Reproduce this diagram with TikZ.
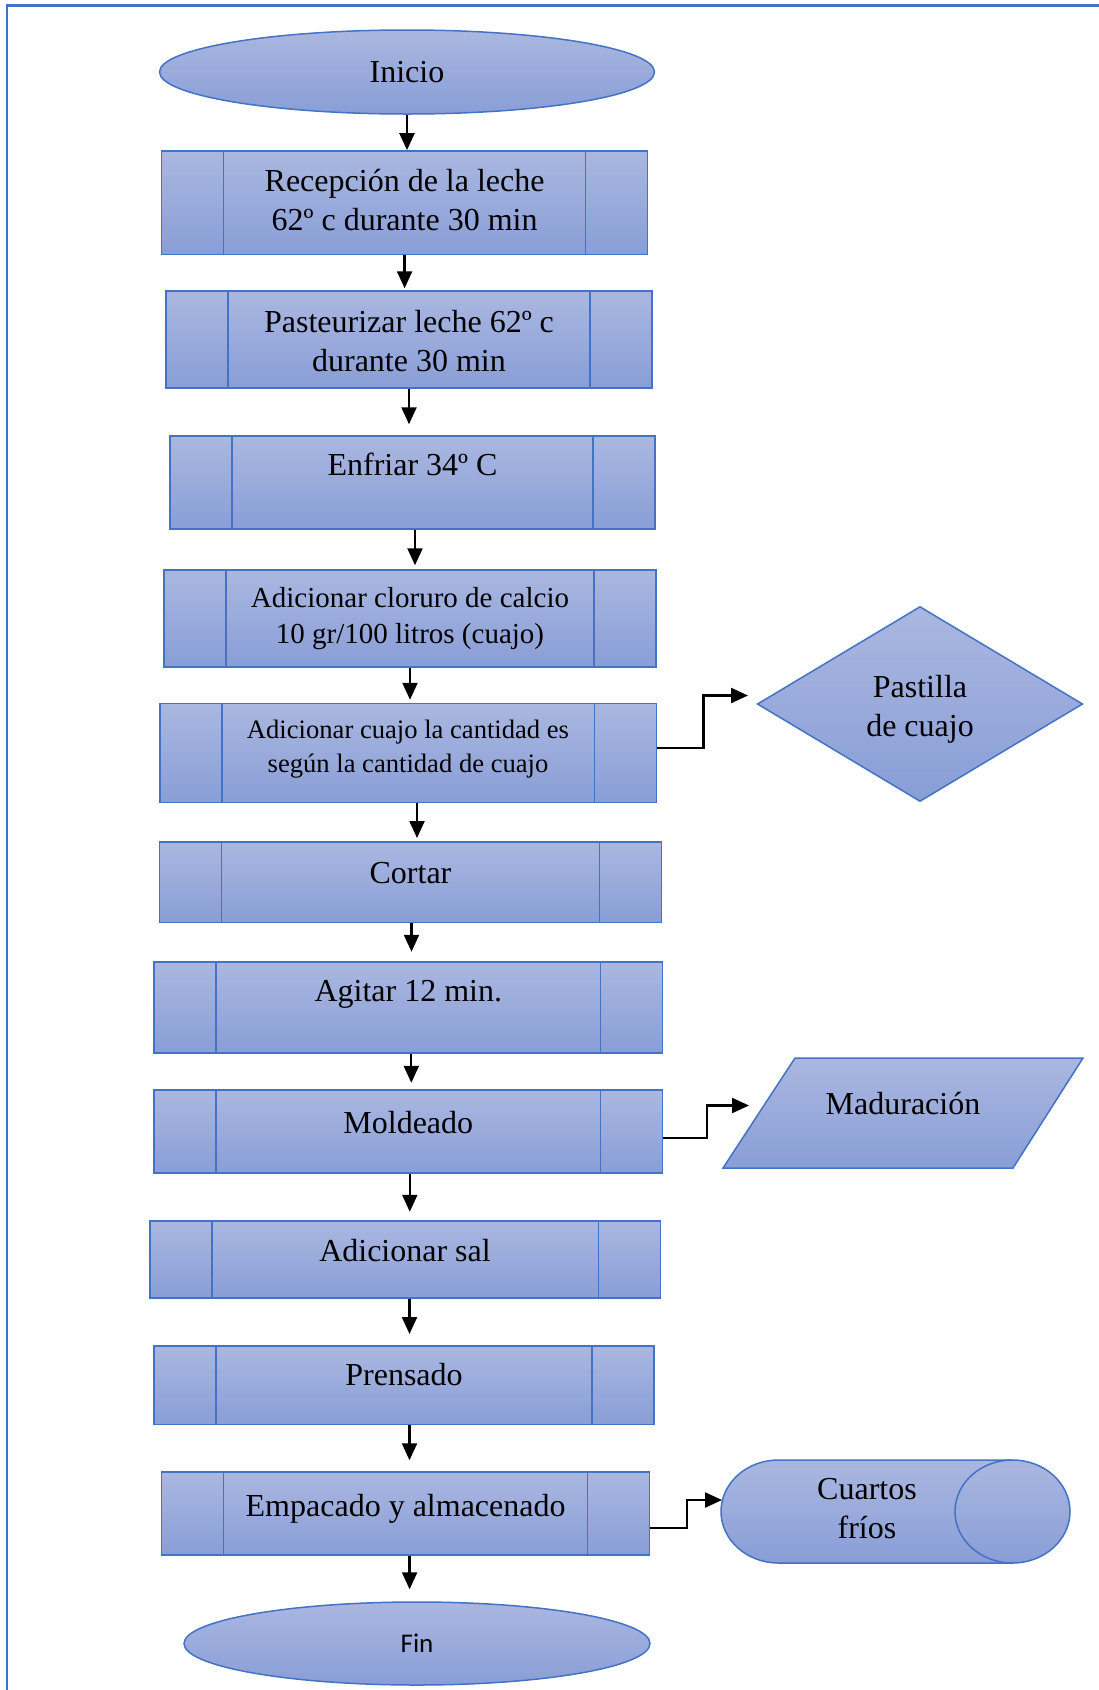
\documentclass[tikz,border=0pt]{standalone}
\usepackage{fontspec}
\setmainfont{Liberation Serif}
\newfontfamily\calibrifont{Carlito}
\usetikzlibrary{positioning, arrows.meta, shapes.geometric}
\definecolor{FrameBlue}{RGB}{68,114,196}
\definecolor{FillTop}{RGB}{170,183,224}
\definecolor{FillBottom}{RGB}{137,158,215}
\newcommand{\boxfont}{\fontsize{32}{39}\selectfont}
\newcommand{\smallboxfont}{\fontsize{29}{36.5}\selectfont}
\newcommand{\tinyboxfont}{\fontsize{26.6}{33.4}\selectfont}
\tikzset{
  shape fill/.style={draw=FrameBlue, line width=1.5pt, top color=FillTop, bottom color=FillBottom},
  terminal/.style={shape fill, ellipse, inner sep=0pt},
  process/.style={shape fill, rectangle, inner sep=0pt,
    path picture={\draw[FrameBlue, line width=1.5pt]
      ([xshift=62pt]path picture bounding box.north west) -- ([xshift=62pt]path picture bounding box.south west)
      ([xshift=-62pt]path picture bounding box.north east) -- ([xshift=-62pt]path picture bounding box.south east);}},
  decision/.style={shape fill, diamond, aspect=1.67, inner sep=0pt, align=center, font=\boxfont},
  cylcap/.style={x radius=57.5pt, y radius=51.5pt},
  boxtext/.style={align=center, font=\boxfont, inner sep=0pt},
  flow/.style={line width=2.3pt, -{Triangle[width=15pt,length=17pt]}}
}
\begin{document}
\begin{tikzpicture}[x=1pt, y=-1pt]
  \useasboundingbox (0,0) rectangle (1099,1690);
  % Frame
  \draw[FrameBlue, line width=2.5pt] (7,1690) -- (7,5.5) -- (1099,5.5);

  % Main column
  \node[terminal, minimum width=495, minimum height=84, font=\boxfont] (inicio) at (407,72) {Inicio};

  \node[process, minimum width=486, minimum height=103.4] (recepcion) at (404.6,202.6) {};
  \node[boxtext] (recepcion text) at ([yshift=3]recepcion.center) {Recepción de la leche\\62º c durante 30 min};

  \node[process, minimum width=486, minimum height=97] (pasteurizar) at (409,339.5) {};
  \node[boxtext] (pasteurizar text) at ([yshift=-2]pasteurizar.center) {Pasteurizar leche 62º c\\durante 30 min};

  \node[process, minimum width=485, minimum height=93] (enfriar) at (412.5,482.5) {};
  \node[boxtext] (enfriar text) at ([yshift=18.5]enfriar.center) {Enfriar 34º C};

  \node[process, minimum width=492, minimum height=97] (cloruro) at (410,618.5) {};
  \node[boxtext, font=\smallboxfont] (cloruro text) at (cloruro.center) {Adicionar cloruro de calcio\\10 gr/100 litros (cuajo)};

  \node[process, minimum width=496.5, minimum height=99] (cuajo) at (408,753) {};
  \node[boxtext, font=\tinyboxfont] (cuajo text) at ([yshift=4]cuajo.center) {Adicionar cuajo la cantidad es\\según la cantidad de cuajo};

  \node[process, minimum width=502, minimum height=80.5] (cortar) at (410.5,882) {};
  \node[boxtext] (cortar text) at ([yshift=9]cortar.center) {Cortar};

  \node[process, minimum width=508.7, minimum height=91] (agitar) at (408.3,1007.5) {};
  \node[boxtext] (agitar text) at ([yshift=13.5]agitar.center) {Agitar 12 min.};

  \node[process, minimum width=508.7, minimum height=83] (moldeado) at (408.3,1131.5) {};
  \node[boxtext] (moldeado text) at ([yshift=8.5]moldeado.center) {Moldeado};

  \node[process, minimum width=510.5, minimum height=77] (sal) at (405,1259.5) {};
  \node[boxtext] (sal text) at ([yshift=8.5]sal.center) {Adicionar sal};

  \node[process, minimum width=500, minimum height=78.5] (prensado) at (404,1385) {};
  \node[boxtext] (prensado text) at ([yshift=10]prensado.center) {Prensado};

  \node[process, minimum width=488, minimum height=83] (empacado) at (405.6,1513.5) {};
  \node[boxtext] (empacado text) at ([yshift=5]empacado.center) {Empacado y almacenado};

  \node[terminal, minimum width=466, minimum height=83, font=\calibrifont\fontsize{27}{32}\selectfont] (fin) at (417,1643.5) {Fin};

  % Side shapes
  \node[decision, minimum width=325.5, minimum height=195] (pastilla) at (920,704) {\\[-6pt]Pastilla\\de cuajo};

  \draw[shape fill] (795,1058) -- (1083,1058) -- (1013,1168) -- (723,1168) -- cycle;
  \node[boxtext] (maduracion) at (903,1104) {Maduración};

  % Cylinder (Cuartos frios)
  \draw[shape fill] (1012.5,1460) -- (778.5,1460) arc[start angle=90, end angle=270, cylcap]
    -- (1012.5,1563) arc[start angle=-90, end angle=90, cylcap] -- cycle;
  \draw[FrameBlue, line width=1.5pt] (1012.5,1460) arc[start angle=90, end angle=270, cylcap];
  \node[boxtext] (cuartos) at (867,1508.5) {Cuartos\\fríos};

  % Flow arrows
  \draw[flow] (inicio.south) -- (inicio.south |- recepcion.north);
  \draw[flow, shorten >=2pt] (recepcion.south) -- (recepcion.south |- pasteurizar.north);
  \draw[flow, shorten >=11pt] (pasteurizar.south) -- (pasteurizar.south |- enfriar.north);
  \draw[flow, shorten >=4pt] ([xshift=2.5]enfriar.south) -- ([xshift=2.5]enfriar.south |- cloruro.north);
  \draw[flow, shorten >=3pt] (cloruro.south) -- (cloruro.south |- cuajo.north);
  \draw[flow, shorten >=3pt] ([xshift=9]cuajo.south) -- ([xshift=9]cuajo.south |- cortar.north);
  \draw[flow, shorten >=9.5pt] ([xshift=1]cortar.south) -- ([xshift=1]cortar.south |- agitar.north);
  \draw[flow, shorten >=6.5pt] ([xshift=3]agitar.south) -- ([xshift=3]agitar.south |- moldeado.north);
  \draw[flow, shorten >=8.5pt] ([xshift=1.5]moldeado.south) -- ([xshift=1.5]moldeado.south |- sal.north);
  \draw[flow, shorten >=11pt] ([xshift=4.5]sal.south) -- ([xshift=4.5]sal.south |- prensado.north);
  \draw[flow, shorten >=11pt] ([xshift=5.5]prensado.south) -- ([xshift=5.5]prensado.south |- empacado.north);
  \draw[flow, shorten >=12pt] ([xshift=4]empacado.south) -- ([xshift=4]empacado.south |- fin.north);

  % Side connectors
  \coordinate (pastilla tip) at ([xshift=-8.5,yshift=8.5]pastilla.west);
  \coordinate (maduracion tip) at (749,1105.5);
  \coordinate (cuartos tip) at (722,1500);
  \draw[flow] ([yshift=5]cuajo.east) -- ++(46.5,0) |- (pastilla tip);
  \draw[flow] ([yshift=-6.5]moldeado.east) -- ++(43.5,0) |- (maduracion tip);
  \draw[flow] ([yshift=-14.5]empacado.east) -- ++(36.5,0) |- (cuartos tip);
\end{tikzpicture}
\end{document}
